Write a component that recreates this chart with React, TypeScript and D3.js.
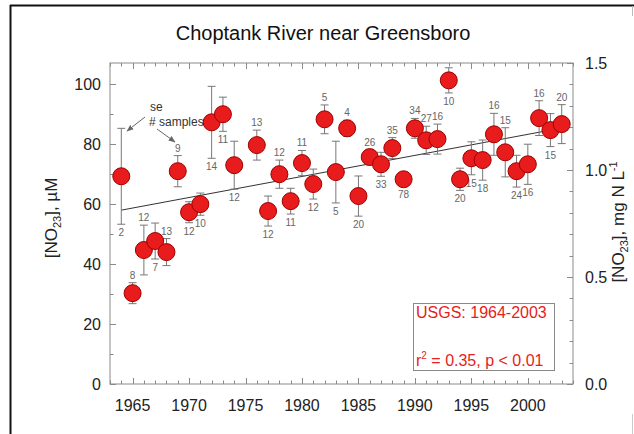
import React, { useEffect } from "react";
import * as d3 from "d3";

// ---- Data ----
const years = [1964, 1965, 1966, 1967, 1968, 1969, 1970, 1971, 1972, 1973, 1974, 1976, 1977, 1978, 1979, 1980, 1981, 1982, 1983, 1984, 1985, 1986, 1987, 1988, 1989, 1990, 1991, 1992, 1993, 1994, 1995, 1996, 1997, 1998, 1999, 2000, 2001, 2002, 2003];
const meanNO23 = [69.3, 30.3, 44.7, 47.7, 44.0, 71.0, 57.3, 60.0, 87.3, 90.0, 73.0, 79.7, 57.7, 70.0, 61.0, 73.7, 66.7, 88.3, 70.7, 85.3, 62.7, 75.7, 73.3, 78.7, 68.3, 85.3, 81.3, 81.7, 101.3, 68.3, 75.3, 74.7, 83.3, 77.3, 71.0, 73.3, 88.7, 84.7, 86.7];
const seNO23 = [16, 3.5, 8.3, 6, 4.5, 5.2, 3.5, 3.7, 12, 5.7, 8, 5, 5, 4.7, 4.3, 4.2, 5, 4.8, 10.3, 2.7, 6.7, 2.5, 4, 3.5, 2.3, 3.3, 4.7, 5, 4.2, 3.7, 5.5, 6.7, 7, 8.2, 5.3, 6.7, 5.8, 5.5, 6.5];
const nSamples = [2, 8, 12, 7, 13, 9, 12, 10, 14, 11, 12, 13, 12, 12, 11, 11, 12, 5, 5, 4, 20, 26, 33, 35, 78, 34, 27, 16, 10, 20, 15, 18, 16, 15, 24, 16, 16, 15, 20];
const labelSide = ["b", "a", "a", "b", "a", "a", "b", "b", "b", "b", "b", "a", "b", "a", "b", "a", "b", "a", "b", "a", "b", "a", "b", "a", "b", "a", "a", "a", "b", "b", "b", "b", "a", "a", "b", "b", "a", "b", "a"];

const trendYears = [1964, 2003];
const trendValues = [58.0, 85.4];

const xTicks = [1965, 1970, 1975, 1980, 1985, 1990, 1995, 2000];
const yLeftTicks = [0, 20, 40, 60, 80, 100];
const yRightTicks = [0.0, 0.5, 1.0, 1.5];

const title = "Choptank River near Greensboro";
const legendLine1 = "USGS: 1964-2003";

export default function App() {
  useEffect(() => {
    document.body.style.margin = "0";
  }, []);

  const W = 634, H = 434;
  const left = 110, right = 573, top = 63, bottom = 384;
  const x = d3.scaleLinear().domain([1963, 2004]).range([left, right]);
  const mgMax = 1.5;
  const uMMax = (mgMax / 14.0067) * 1000;
  const yL = d3.scaleLinear().domain([0, uMMax]).range([bottom, top]);
  const yR = d3.scaleLinear().domain([0, mgMax]).range([bottom, top]);

  const axisColor = "#8a8a8a";
  const font = "Liberation Sans, Arial, sans-serif";
  const red = "#e81c1c";

  const yearMinor = d3.range(1963, 2005);
  const leftMinor = d3.range(0, 110, 10);
  const rightMinor = d3.range(0, 16).map((d) => d / 10);

  const line = d3.line<number>().x((d, i) => x(trendYears[i])).y((d) => yL(d));

  return (
    <svg width={W} height={H} style={{ position: "absolute", left: 0, top: 0, background: "#fff" }} fontFamily={font}>
      <rect x={0} y={0} width={W} height={H} fill="#fff" />
      {/* outer frame */}
      <line x1={10.5} y1={5} x2={10.5} y2={H} stroke="#111" strokeWidth={2} />
      <line x1={10} y1={5.5} x2={W} y2={5.5} stroke="#111" strokeWidth={2} />
      <line x1={632.5} y1={6} x2={632.5} y2={16} stroke="#bbb" strokeWidth={1} />
      <line x1={632.5} y1={414} x2={632.5} y2={H} stroke="#ccc" strokeWidth={1} />

      {/* title */}
      <text x={323} y={40} textAnchor="middle" fontSize={20} fill="#111">{title}</text>

      {/* plot frame */}
      <rect x={left} y={top} width={right - left} height={bottom - top} fill="none" stroke={axisColor} strokeWidth={1} />

      {/* x ticks bottom and top */}
      {yearMinor.map((yr) => {
        const major = yr % 5 === 0;
        const len = major ? 6 : 3.5;
        const xx = Math.round(x(yr)) + 0.5;
        return (
          <g key={"xt" + yr}>
            <line x1={xx} x2={xx} y1={bottom} y2={bottom - len} stroke={axisColor} />
            <line x1={xx} x2={xx} y1={top} y2={top + len} stroke={axisColor} />
          </g>
        );
      })}
      {xTicks.map((yr) => (
        <text key={"xl" + yr} x={x(yr)} y={411} textAnchor="middle" fontSize={16} fill="#222">{yr}</text>
      ))}

      {/* left ticks */}
      {leftMinor.map((v) => {
        const major = v % 20 === 0;
        const yy = Math.round(yL(v)) + 0.5;
        return <line key={"lt" + v} x1={left} x2={left + (major ? 6 : 3.5)} y1={yy} y2={yy} stroke={axisColor} />;
      })}
      {yLeftTicks.map((v) => (
        <text key={"ll" + v} x={101} y={yL(v) + 6} textAnchor="end" fontSize={16} fill="#222">{v}</text>
      ))}

      {/* right ticks */}
      {rightMinor.map((v, i) => {
        const major = i % 5 === 0;
        const yy = Math.round(yR(v)) + 0.5;
        return <line key={"rt" + i} x1={right} x2={right - (major ? 6 : 3.5)} y1={yy} y2={yy} stroke={axisColor} />;
      })}
      {yRightTicks.map((v) => (
        <text key={"rl" + v} x={585} y={yR(v) + 6} textAnchor="start" fontSize={16} fill="#222">{v.toFixed(1)}</text>
      ))}

      {/* axis titles */}
      <text transform={`translate(57,218) rotate(-90)`} textAnchor="middle" fontSize={17} fill="#222">
        [NO<tspan fontSize={11} dy={4}>23</tspan><tspan dy={-4}>], µM</tspan>
      </text>
      <text transform={`translate(624,222) rotate(-90)`} textAnchor="middle" fontSize={17} fill="#222">
        [NO<tspan fontSize={11} dy={4}>23</tspan><tspan dy={-4}>], mg N L</tspan><tspan fontSize={11} dy={-7}>-1</tspan>
      </text>

      {/* regression line */}
      <path d={line(trendValues) || ""} fill="none" stroke="#333" strokeWidth={1} />

      {/* error bars */}
      {years.map((yr, i) => {
        const cx = x(yr);
        const y1 = yL(meanNO23[i] + seNO23[i]);
        const y2 = yL(meanNO23[i] - seNO23[i]);
        return (
          <g key={"eb" + yr} stroke="#777" strokeWidth={1}>
            <line x1={cx} x2={cx} y1={y1} y2={y2} />
            <line x1={cx - 4} x2={cx + 4} y1={y1} y2={y1} />
            <line x1={cx - 4} x2={cx + 4} y1={y2} y2={y2} />
          </g>
        );
      })}

      {/* sample counts */}
      {years.map((yr, i) => {
        const cx = x(yr);
        const above = labelSide[i] === "a";
        const yy = above ? yL(meanNO23[i] + seNO23[i]) - 4 : yL(meanNO23[i] - seNO23[i]) + 12;
        return (
          <text key={"n" + yr} x={cx} y={yy} textAnchor="middle" fontSize={10} fill="#666">{nSamples[i]}</text>
        );
      })}

      {/* points */}
      {years.map((yr, i) => (
        <circle key={"p" + yr} cx={x(yr)} cy={yL(meanNO23[i])} r={8.5} fill={red} stroke="#a00000" strokeWidth={1} />
      ))}

      {/* annotation */}
      <defs>
        <marker id="arr" viewBox="0 0 10 10" refX={9} refY={5} markerWidth={7} markerHeight={7} orient="auto">
          <path d="M0,1 L10,5 L0,9 z" fill="#666" />
        </marker>
      </defs>
      <text x={150} y={111} fontSize={12} fill="#333">se</text>
      <text x={149} y={126} fontSize={12} fill="#333"># samples</text>
      <line x1={145} y1={117} x2={127} y2={131} stroke="#666" strokeWidth={1} markerEnd="url(#arr)" />
      <line x1={157} y1={129} x2={175} y2={142} stroke="#666" strokeWidth={1} markerEnd="url(#arr)" />

      {/* legend box */}
      <rect x={413.5} y={303.5} width={141} height={67} fill="#fff" stroke="#888" strokeWidth={1} />
      <text x={416} y={318} fontSize={16} fill={red}>{legendLine1}</text>
      <text x={416} y={366} fontSize={16} fill={red}>
        r<tspan fontSize={10} dy={-7}>2</tspan><tspan dy={7}> = 0.35, p &lt; 0.01</tspan>
      </text>
    </svg>
  );
}
